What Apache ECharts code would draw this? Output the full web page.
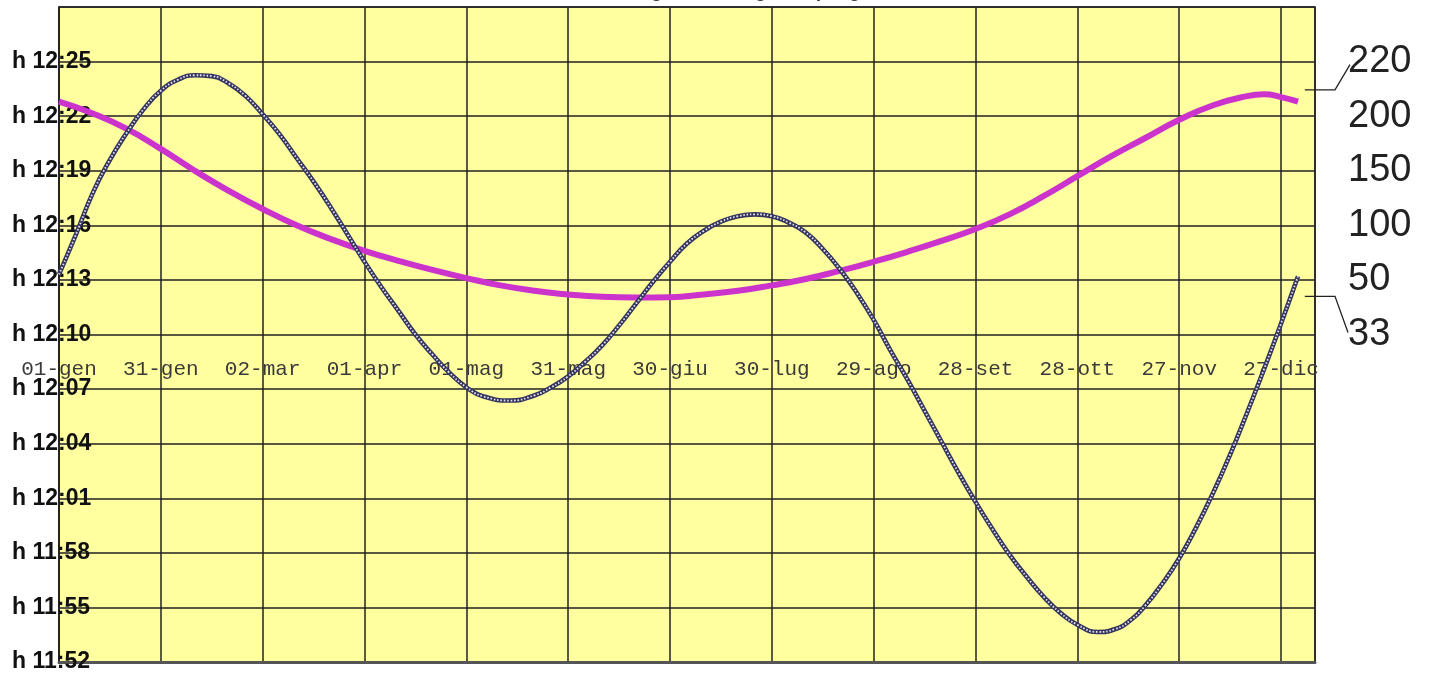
<!DOCTYPE html>
<html><head><meta charset="utf-8">
<script src="https://cdn.jsdelivr.net/npm/echarts@6/dist/echarts.min.js"></script>
<style>html,body{margin:0;padding:0;background:#fff}#c{width:1434px;height:677px}</style>
</head><body><div id="c"></div>
<script>
// ---- data (days from 01-gen, minutes after 12:00) ----
const tickDays = [0,30,60,90,120,150,180,210,240,270,300,330,360];
const tickLabels = ["01-gen","31-gen","02-mar","01-apr","01-mag","31-mag","30-giu","30-lug","29-ago","28-set","28-ott","27-nov","27-dic"];
const leftLabels = ["h 11:52","h 11:55","h 11:58","h 12:01","h 12:04","h 12:07","h 12:10","h 12:13","h 12:16","h 12:19","h 12:22","h 12:25",""];
const rightLabels = ["","","","","","","33","50","100","150","200","220",""];
const title = "Ora del mezzogiorno vero giorno per giorno";

const blackDays = [0,5,10,15,20,25,30,35,40,45,50,55,60,65,70,75,80,85,90,95,100,105,110,115,120,125,133,140,145,150,155,160,165,170,175,180,185,190,195,200,205,210,215,220,225,230,235,240,245,250,255,260,265,270,275,280,285,290,295,300,306,311,316,320,325,330,335,340,345,350,355,360,365];
const blackMin  = [13.3,15.5,17.8,19.6,21.1,22.4,23.4,24.0,24.25,24.2,23.8,23.1,22.1,21.0,19.7,18.4,17.0,15.5,14.0,12.6,11.3,10.0,8.9,7.9,7.1,6.6,6.37,6.65,7.1,7.7,8.5,9.4,10.5,11.7,12.9,14.0,15.0,15.7,16.2,16.5,16.6,16.5,16.15,15.6,14.7,13.6,12.3,10.8,9.1,7.5,5.8,4.1,2.4,0.8,-0.7,-2.1,-3.3,-4.4,-5.3,-5.95,-6.35,-6.2,-5.65,-4.9,-3.7,-2.3,-0.6,1.3,3.4,5.7,8.1,10.6,13.2];

const magDays = [0,10,20,30,40,50,60,70,80,90,100,110,120,130,140,150,160,170,180,190,200,210,220,230,240,250,260,270,280,290,300,310,320,330,340,350,355,360,365];
const magMin  = [22.8,22.15,21.3,20.2,19.0,17.9,16.9,16.0,15.25,14.6,14.05,13.55,13.1,12.7,12.4,12.2,12.07,12.03,12.05,12.2,12.4,12.7,13.05,13.5,14.0,14.55,15.15,15.8,16.6,17.6,18.7,19.8,20.8,21.8,22.6,23.1,23.2,23.05,22.8];

// axis units: minutes after 11:52
const BASE = -8;
const toAxis = m => m - BASE;
const blackData = blackDays.map((d,i)=>[d, toAxis(blackMin[i])]);
const magData = magDays.map((d,i)=>[d, toAxis(magMin[i])]);

const chart = echarts.init(document.getElementById('c'));
const gridLine = {show:true, lineStyle:{color:'#222', width:1.5}};
chart.setOption({
  animation:false,
  backgroundColor:'#ffffff',
  grid:{left:59, right:119, top:7, bottom:15, show:true, backgroundColor:'#ffffa0', borderColor:'#222', borderWidth:1.5},
  xAxis:[{
    type:'value', min:0, max:370, interval:30, position:'bottom', offset:-327,
    axisLine:{show:false}, axisTick:{show:false},
    splitLine:gridLine,
    axisLabel:{margin:24, fontFamily:'Liberation Mono', fontSize:21, color:'#3a3a3a', showMaxLabel:false,
      formatter:v=>{const i=tickDays.indexOf(v); return i>=0?tickLabels[i]:'';}}
  },{
    type:'value', min:0, max:370, position:'top',
    axisLine:{show:true, lineStyle:{color:'#555', width:3}}, axisTick:{show:false}, axisLabel:{show:false}, splitLine:{show:false}
  }],
  yAxis:[{
    type:'value', min:0, max:36, interval:3, position:'left',
    axisLine:{show:true, lineStyle:{color:'#222', width:1.5}}, axisTick:{show:false},
    splitLine:gridLine,
    axisLabel:{margin:47, align:'left', fontFamily:'Liberation Sans', fontWeight:'bold', fontSize:23, color:'#111',
      formatter:v=>leftLabels[Math.round(v/3)]||''}
  },{
    type:'value', min:0, max:36, interval:3, position:'right',
    axisLine:{show:false}, axisTick:{show:false}, splitLine:{show:false},
    axisLabel:{margin:33, align:'left', fontFamily:'Liberation Sans', fontSize:38, color:'#222',
      formatter:v=>rightLabels[Math.round(v/3)]||''}
  }],
  series:[
    {type:'line', data:magData, smooth:true, symbol:'none', lineStyle:{color:'#cc33cc', width:6}, z:2},
    {type:'line', data:blackData, smooth:true, symbol:'none', lineStyle:{color:'#34345f', width:4.6}, z:3},
    {type:'line', data:blackData, smooth:true, symbol:'none', lineStyle:{color:'#e4e4ec', width:1.8, type:[1.6,1.8]}, z:4}
  ]
});

// leader lines for the right-hand labels
const gx = v => chart.convertToPixel({xAxisIndex:0}, v);
const gy = v => chart.convertToPixel({yAxisIndex:0}, v);
const right = gx(370);
const mk = (pts)=>({type:'polyline', shape:{points:pts}, style:{stroke:'#222', lineWidth:1.3, fill:null}, z:10});
chart.setOption({graphic:[
  {type:'text', left:'center', top:-17, style:{text:title, font:'bold 18px "Liberation Sans"', fill:'#333'}},
  mk([[gx(367), gy(31.45)], [right+20, gy(31.45)], [right+35, gy(33)+3]]),
  mk([[gx(367), gy(20.1)], [right+20, gy(20.1)], [right+33, gy(18)-2]])
]});
</script></body></html>
